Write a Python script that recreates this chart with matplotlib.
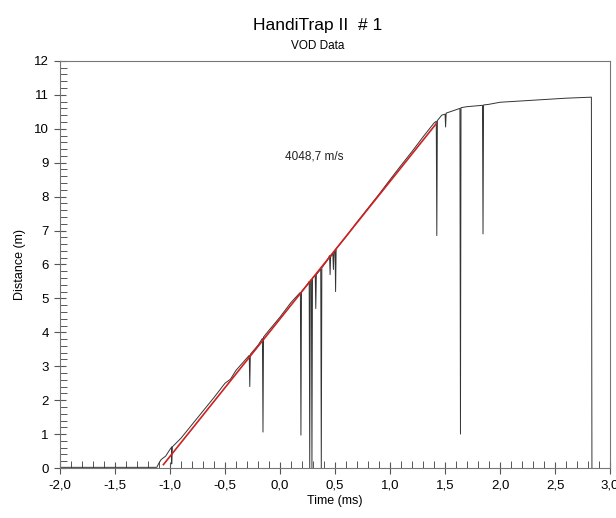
import numpy as np
import matplotlib.pyplot as plt
from matplotlib.ticker import MultipleLocator, FuncFormatter

plt.rcParams['font.family'] = ['Liberation Sans', 'DejaVu Sans']

#%% Data

# VOD trace (time in ms, distance in m), dropouts included as explicit points
time_ms = [-2.0, -1.12, -1.10, -1.08, -1.04, -1.0, -0.985, -0.985, -0.98,
           -0.9, -0.8, -0.7, -0.6, -0.5, -0.45, -0.4,
           -0.28, -0.275, -0.27, -0.2, -0.16, -0.155, -0.15,
           -0.1, 0.0, 0.1, 0.185, 0.19, 0.195, 0.25,
           0.265, 0.27, 0.275, 0.285, 0.29, 0.295,
           0.32, 0.325, 0.33, 0.37, 0.375, 0.38,
           0.43, 0.45, 0.455, 0.46, 0.48, 0.485, 0.49, 0.5, 0.505, 0.51,
           0.6, 0.7, 0.8, 0.9, 1.0, 1.1, 1.2, 1.3, 1.4,
           1.42, 1.425, 1.43, 1.47, 1.5, 1.505, 1.51,
           1.6, 1.635, 1.64, 1.645, 1.7, 1.84, 1.845, 1.85,
           1.9, 2.0, 2.2, 2.4, 2.6, 2.83, 2.835]
distance_m = [0.02, 0.02, 0.15, 0.25, 0.35, 0.55, 0.62, 0.12, 0.62,
              0.88, 1.28, 1.68, 2.08, 2.5, 2.62, 2.88,
              3.32, 2.4, 3.35, 3.62, 3.82, 1.06, 3.86,
              4.06, 4.45, 4.88, 5.18, 0.97, 5.2, 5.42,
              5.5, 0.0, 5.52, 5.56, 0.0, 5.6,
              5.68, 4.7, 5.7, 5.86, 0.0, 5.9,
              6.12, 6.26, 5.7, 6.22, 6.32, 5.85, 6.33, 6.42, 5.2, 6.46,
              6.82, 7.25, 7.66, 8.07, 8.5, 8.92, 9.33, 9.76, 10.17,
              10.22, 6.85, 10.24, 10.4, 10.43, 10.05, 10.46,
              10.56, 10.6, 1.0, 10.62, 10.65, 10.69, 6.9, 10.7,
              10.72, 10.78, 10.82, 10.86, 10.9, 10.93, 0.0]

# linear fit (red line) endpoints
fit_time = [-1.06, 1.42]
fit_dist = [0.1, 10.15]
fit_label = "4048,7 m/s"

#%% Plot

fig = plt.figure(figsize=(6.16, 5.18), dpi=100)
ax = fig.add_axes([0.0974, 0.0965, 0.893, 0.786])

ax.plot(time_ms, distance_m, color='#333333', lw=0.7)
ax.plot(fit_time, fit_dist, color='#d02020', lw=1.2)
ax.text(0.31, 9.17, fit_label, fontsize=8.5, ha='center', va='center', color='#222222')

ax.set_xlim(-2.0, 3.0)
ax.set_ylim(0, 12)
ax.xaxis.set_major_locator(MultipleLocator(0.5))
ax.xaxis.set_minor_locator(MultipleLocator(0.1))
ax.yaxis.set_major_locator(MultipleLocator(1))
ax.yaxis.set_minor_locator(MultipleLocator(0.2))
ax.xaxis.set_major_formatter(FuncFormatter(lambda v, p: f"{v:.1f}".replace('.', ',')))

ax.tick_params(which='major', direction='inout', length=9, width=0.8, color='#555555', labelsize=9.5)
ax.tick_params(which='minor', direction='in', length=5, width=0.7, color='#555555')
ax.tick_params(axis='x', which='major', pad=4)
ax.tick_params(top=False, right=False, which='both')
for s in ax.spines.values():
    s.set_color('#777777')
    s.set_linewidth(0.8)

ax.set_xlabel("Time (ms)", fontsize=9, labelpad=2)
ax.set_ylabel("Distance (m)", fontsize=9, labelpad=6)

fig.text(0.515, 0.950, "HandiTrap II  # 1", ha='center', va='center', fontsize=12.5)
fig.text(0.515, 0.912, "VOD Data", ha='center', va='center', fontsize=8.5)

plt.savefig("out.png", dpi=100)
